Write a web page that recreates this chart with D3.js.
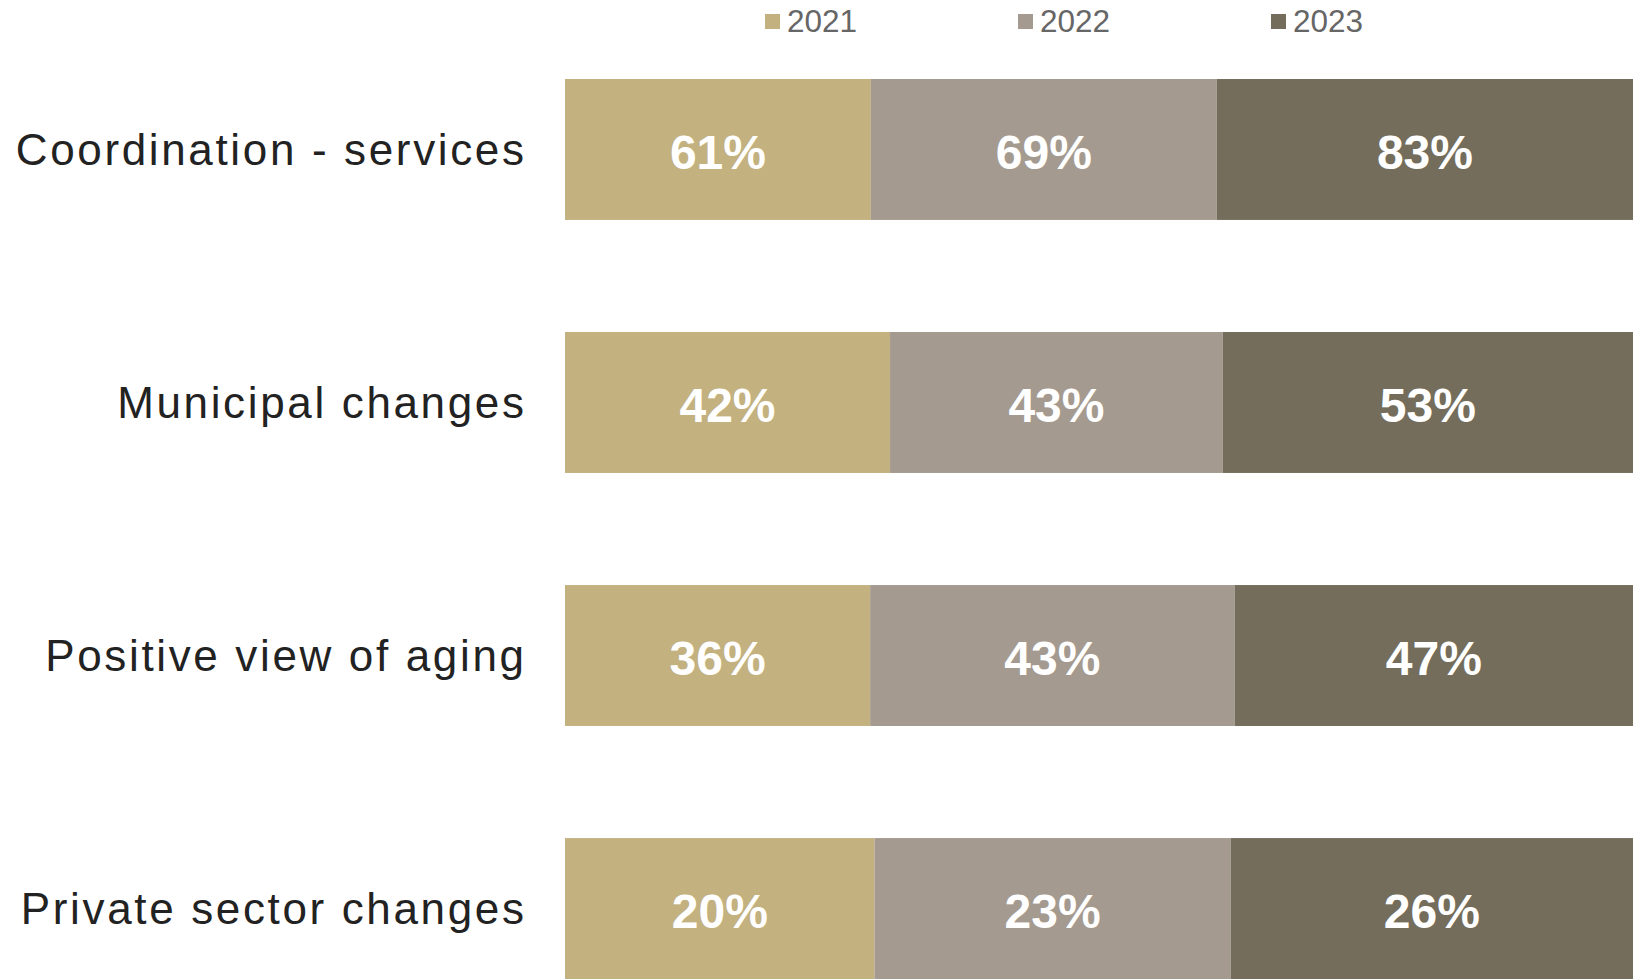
<!DOCTYPE html>
<html>
<head>
<meta charset="utf-8">
<script src="https://cdn.jsdelivr.net/npm/d3@7"></script>
<style>
  body { margin: 0; background: #fff; }
  svg { display: block; }
</style>
</head>
<body>
<div id="chart"></div>
<script>
const categories = ['Coordination - services', 'Municipal changes', 'Positive view of aging', 'Private sector changes'];
const years = ['2021', '2022', '2023'];
const values2021 = [61, 42, 36, 20];
const values2022 = [69, 43, 43, 23];
const values2023 = [83, 53, 47, 26];
const colors = ['#C3B180', '#A59A8F', '#746D5B'];

const W = 1638, H = 980;
const margin = { top: 79, right: 5, bottom: 1, left: 565 };

// build rows for the stack
const rows = categories.map((c, i) => ({
  cat: c,
  '2021': values2021[i],
  '2022': values2022[i],
  '2023': values2023[i],
}));

const series = d3.stack()
  .keys(years)
  .offset(d3.stackOffsetExpand)(rows);

const svg = d3.select('#chart')
  .append('svg')
  .attr('width', W)
  .attr('height', H);

const x = d3.scaleLinear()
  .domain([0, 1])
  .range([margin.left, W - margin.right]);

const y = d3.scaleBand()
  .domain(categories)
  .range([margin.top, H - margin.bottom])
  .paddingInner(0.443)
  .paddingOuter(0);

const color = d3.scaleOrdinal().domain(years).range(colors);

// Bars
const groups = svg.selectAll('g.series')
  .data(series)
  .enter()
  .append('g')
  .attr('class', 'series')
  .attr('fill', (d) => color(d.key));

groups.selectAll('rect')
  .data((d) => d.map((v) => ({ key: d.key, v: v })))
  .enter()
  .append('rect')
  .attr('x', (d) => x(d.v[0]))
  .attr('y', (d) => y(d.v.data.cat))
  .attr('width', (d) => x(d.v[1]) - x(d.v[0]))
  .attr('height', y.bandwidth());

// Value labels
groups.selectAll('text')
  .data((d) => d.map((v) => ({ key: d.key, v: v })))
  .enter()
  .append('text')
  .attr('x', (d) => (x(d.v[0]) + x(d.v[1])) / 2)
  .attr('y', (d) => y(d.v.data.cat) + y.bandwidth() / 2 + 2)
  .attr('dy', '0.36em')
  .attr('text-anchor', 'middle')
  .attr('font-family', 'Liberation Sans, Arial, sans-serif')
  .attr('font-weight', 'bold')
  .attr('font-size', 48)
  .attr('fill', '#fff')
  .text((d) => d.v.data[d.key] + '%');

// Category labels
const ls = 2.65;
svg.append('g')
  .selectAll('text')
  .data(categories)
  .enter()
  .append('text')
  .attr('x', 524 + ls)
  .attr('y', (d) => y(d) + y.bandwidth() / 2)
  .attr('dy', '0.35em')
  .attr('text-anchor', 'end')
  .attr('font-family', 'Liberation Sans, Arial, sans-serif')
  .attr('font-size', 44)
  .attr('letter-spacing', ls)
  .attr('fill', '#222')
  .text((d) => d);

// Legend
const legend = svg.append('g')
  .selectAll('g')
  .data(years)
  .enter()
  .append('g')
  .attr('transform', (d, i) => `translate(${765 + i * 253},0)`);

legend.append('rect')
  .attr('x', 0)
  .attr('y', 14)
  .attr('width', 15)
  .attr('height', 15)
  .attr('fill', (d) => color(d));

legend.append('text')
  .attr('x', 22)
  .attr('y', 21)
  .attr('dy', '0.36em')
  .attr('font-family', 'Liberation Sans, Arial, sans-serif')
  .attr('font-size', 31.5)
  .attr('fill', '#666')
  .text((d) => d);
</script>
</body>
</html>
